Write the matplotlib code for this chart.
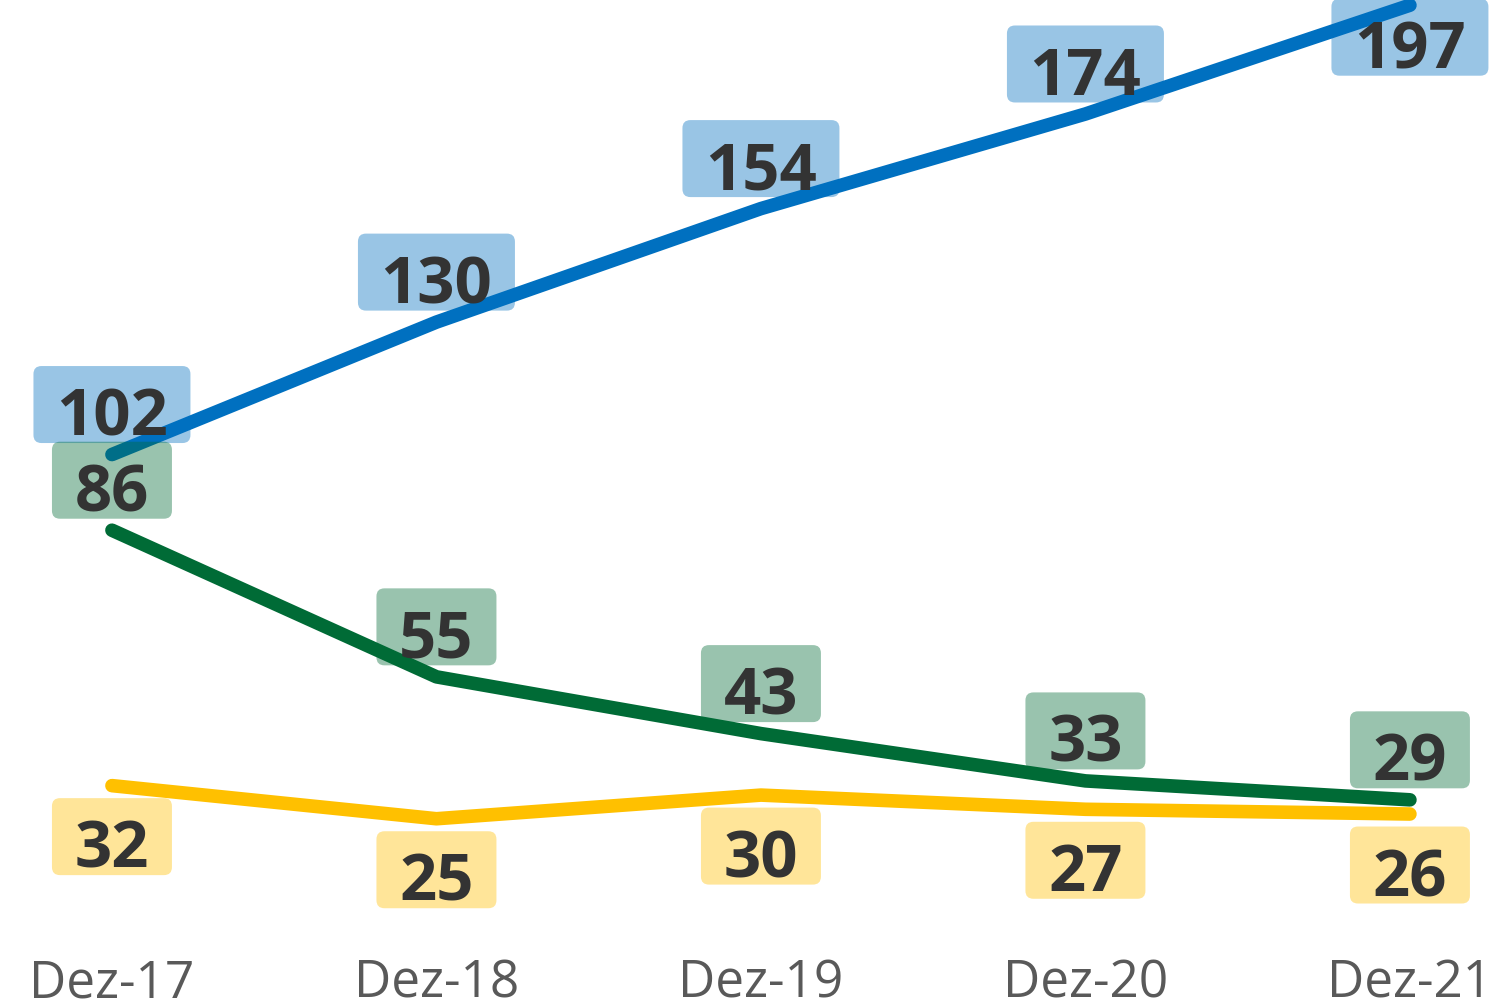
import numpy as np
import matplotlib.pyplot as plt
from matplotlib.patches import FancyBboxPatch

periods = ["Dez-17", "Dez-18", "Dez-19", "Dez-20", "Dez-21"]
blue_vals = [102, 130, 154, 174, 197]
green_vals = [86, 55, 43, 33, 29]
yellow_vals = [32, 25, 30, 27, 26]

W, H = 1493, 1006
fig = plt.figure(figsize=(W / 100, H / 100), dpi=100)
ax = fig.add_axes([0, 0, 1, 1])
xlim = (-0.345, 4.256)
ylim = (-14.59, 198.1)
ax.set_xlim(*xlim)
ax.set_ylim(*ylim)
ax.axis("off")

# data units per pixel
ux = (xlim[1] - xlim[0]) / W
uy = (ylim[1] - ylim[0]) / H

x = np.arange(len(periods))

series = [
    (blue_vals, "#0070C0", [50, 50, 50, 50, -32]),
    (green_vals, "#006B36", [50] * 5),
    (yellow_vals, "#FFC000", [-51] * 5),
]

for vals, col, shifts in series:
    ax.plot(x, vals, color=col, lw=9.8, solid_capstyle="round", zorder=2)

for vals, col, shifts in series:
    for xi, v, s in zip(x, vals, shifts):
        txt = str(v)
        bw = (157 if len(txt) == 3 else 120) * ux
        bh = 77 * uy
        cy = v + s * uy
        box = FancyBboxPatch((xi - bw / 2, cy - bh / 2), bw, bh,
                             boxstyle="round,pad=0,rounding_size=%f" % (8 * ux),
                             mutation_aspect=uy / ux,
                             fc=col, ec="none", alpha=0.4, zorder=3)
        ax.add_patch(box)
        ax.text(xi, cy - 31 * uy, txt, ha="center", va="baseline",
                fontsize=47, fontweight="bold", family="Open Sans",
                color="#333333", zorder=4)

for xi, p in zip(x, periods):
    ax.text(xi, -61 * uy, p, ha="center", va="baseline", fontsize=37,
            family="Open Sans", color="#595959", clip_on=False)

plt.savefig("out.png", dpi=100)
